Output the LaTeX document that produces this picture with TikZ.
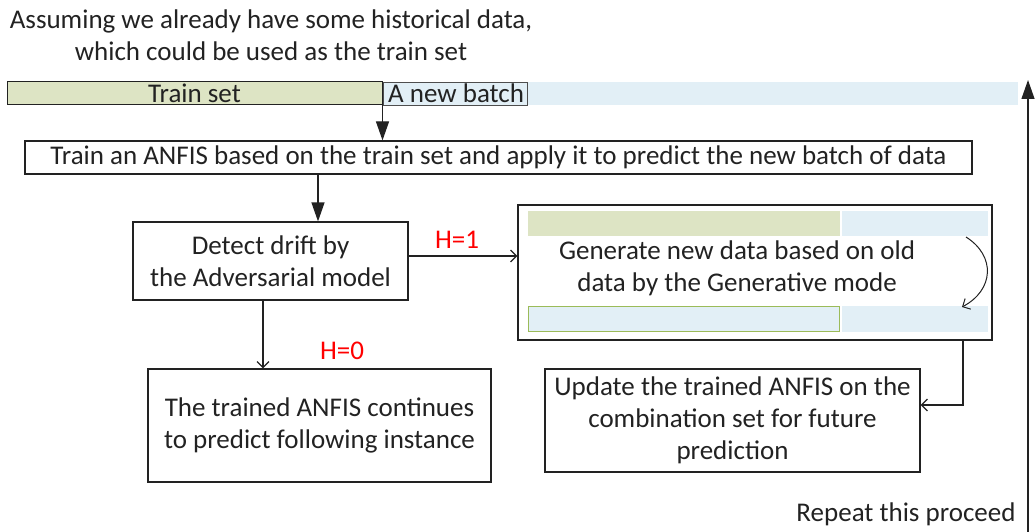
\documentclass[tikz,border=0pt]{standalone}
\usepackage{fontspec}
\setmainfont{Carlito}
\usetikzlibrary{arrows.meta}
\definecolor{trainfill}{HTML}{DDE4C4}
\definecolor{batchfill}{HTML}{E2EFF6}
\definecolor{olive}{HTML}{9BBB59}
\definecolor{ink}{HTML}{222222}
\begin{document}
\begin{tikzpicture}[x=1pt,y=-1pt,
  every node/.style={font=\fontsize{27}{32}\selectfont, text=ink},
  box/.style={draw=ink, line width=1.2pt, align=center, inner sep=0pt},
  bar/.style={line width=1pt, inner sep=0pt, minimum height=23pt},
  solidtip/.style={line width=1.2pt, draw=ink, -{Triangle[length=19pt,width=13pt]}},
  opentip/.style={line width=1.2pt, draw=ink, -{Straight Barb[length=6pt,width=12pt]}},
  hlabel/.style={text=red}]
\useasboundingbox (0,0) rectangle (1035,532);

% caption above the data bars
\node[align=center] (intro) at (271,35) {Assuming we already have some historical data,\\which could be used as the train set};

% data bars
\fill[batchfill] (527,82) rectangle (1018,105);
\node[bar, draw=ink, fill=trainfill, minimum width=375pt] (trainset) at (194.5,93.5) {Train set};
\node[bar, draw=ink!80, line width=0.8pt, fill=batchfill, minimum width=144pt] (newbatch) at (455,93.5) {};
\node[anchor=west, inner sep=0pt] (batchtext) at (388,93.5) {A new batch};

% process boxes
\node[box, minimum width=947pt, minimum height=33pt] (train) at (498.5,157.5)
  {Train an ANFIS based on the train set and apply it to predict the new batch of data};
\node[box, minimum width=275pt, minimum height=78pt] (detect) at (270.5,261)
  {Detect drift by\\the Adversarial model};
\node[box, minimum width=474pt, minimum height=135pt] (generate) at (755,272.5) {};
\node[box, minimum width=343pt, minimum height=113pt] (continue) at (319.5,425.5)
  {The trained ANFIS continues\\to predict following instance};
\node[box, minimum width=375pt, minimum height=103pt] (update) at (732.5,420.5)
  {Update the trained ANFIS on the\\combination set for future\\prediction};

% contents of the generation box
\fill[trainfill] (528,211) rectangle (840,236);
\fill[batchfill] (842,211) rectangle (988,236);
\fill[batchfill] (842,306) rectangle (988,332);
\filldraw[fill=batchfill, draw=olive, line width=1pt] (528.5,306.5) rectangle (839.5,331.5);
\node[align=center] (gentext) at (737,268) {Generate new data based on old\\data by the Generative mode};
\coordinate (curvefrom) at (966,237);
\coordinate (curveto) at (962,307);
\draw[opentip, line width=1pt] (curvefrom) .. controls (996,256) and (994,290) .. (curveto);

% connectors
\draw[solidtip] (trainset.south east) -- (trainset.south east |- train.north);
\draw[solidtip] (318,0 |- train.south) -- (318,0 |- detect.north);
\coordinate (hone) at (408,256);
\draw[opentip] (hone) -- (generate.west |- hone);
\node[hlabel] (h1) at (457,240) {H=1};
\draw[opentip] (263,0 |- detect.south) -- (263,0 |- continue.north);
\node[hlabel] (h0) at (342,351) {H=0};
\coordinate (bend) at (963,405);
\draw[opentip] (963,0 |- generate.south) -- (bend) -- (update.east |- bend);

% repeat arrow on the right
\coordinate (loopstart) at (1028,532);
\coordinate (loopend) at (1028,80);
\draw[solidtip] (loopstart) -- (loopend);
\node (repeat) at (906,514) {Repeat this proceed};
\end{tikzpicture}
\end{document}
